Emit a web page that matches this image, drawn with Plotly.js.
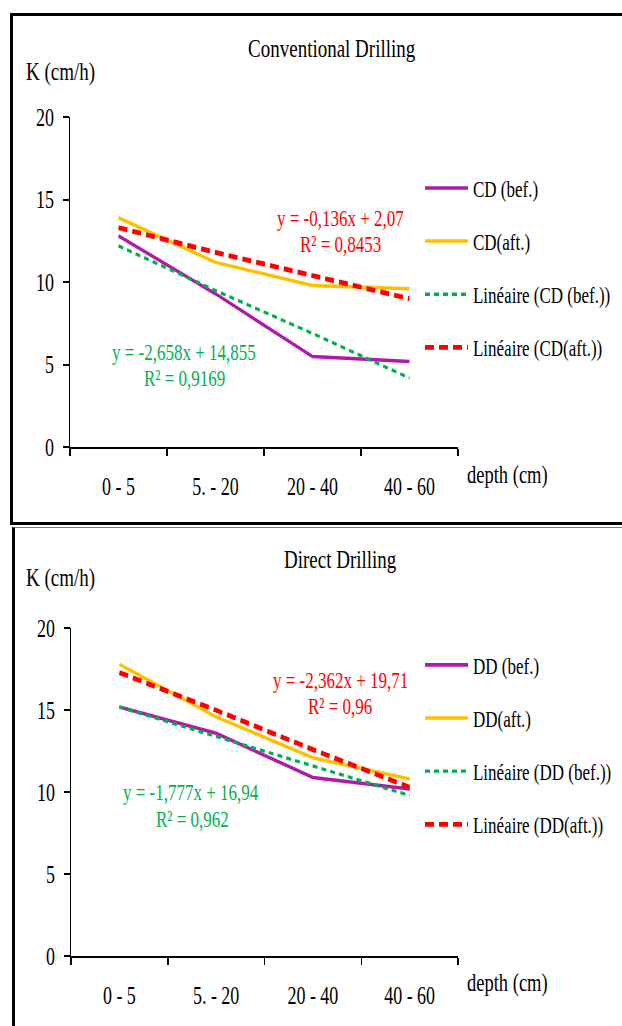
<!DOCTYPE html>
<html>
<head>
<meta charset="utf-8">
<script src="https://cdn.plot.ly/plotly-3.0.1.min.js"></script>
<style>
html,body{margin:0;padding:0;background:#ffffff;width:622px;height:1026px;overflow:hidden;}
#wrap{position:absolute;left:0;top:0;width:622px;transform-origin:0 0;}
.pl{position:absolute;left:0;width:622px;}
#box1{position:absolute;left:10px;top:13px;width:700px;height:512px;box-sizing:border-box;border:3px solid #000;border-right:none;z-index:5;pointer-events:none;}
#box2{position:absolute;left:12px;top:527px;width:700px;height:600px;box-sizing:border-box;border-left:3px solid #000;border-top:1px solid #777;z-index:5;pointer-events:none;}
</style>
</head>
<body>
<div id="wrap"><div id="p1" class="pl"></div><div id="p2" class="pl"></div></div>
<div id="box1"></div>
<div id="box2"></div>
<script>
// ---------- data ----------
const categories = ["0 - 5", "5. - 20", "20 - 40", "40 - 60"];

const cdBef      = [12.8, 9.3, 5.5, 5.2];
const cdAft      = [13.9, 11.2, 9.8, 9.6];
const cdBefTrend = [12.2, 9.5, 6.9, 4.2];
const cdAftTrend = [13.3, 11.8, 10.4, 9.0];

const ddBef      = [15.2, 13.6, 10.9, 10.2];
const ddAft      = [17.8, 14.6, 12.1, 10.8];
const ddBefTrend = [15.2, 13.4, 11.6, 9.8];
const ddAftTrend = [17.3, 15.0, 12.6, 10.3];

const cdNames = ["CD (bef.)", "CD(aft.)", "Linéaire (CD (bef.))", "Linéaire (CD(aft.))"];
const ddNames = ["DD (bef.)", "DD(aft.)", "Linéaire (DD (bef.))", "Linéaire (DD(aft.))"];

const cdEq = ["y = -0,136x + 2,07", "R² = 0,8453", "y = -2,658x + 14,855", "R² = 0,9169"];
const ddEq = ["y = -2,362x + 19,71", "R² = 0,96", "y = -1,777x + 16,94", "R² = 0,962"];

// ---------- style ----------
const S = 1.36;              // vertical stretch of the original picture
const FONT = '"Liberation Serif", "Times New Roman", serif';
const PURPLE = "#B01AAA", GOLD = "#FFC000", GREEN = "#00B050", RED = "#FF0000";
const TOTAL = 1026 / S;
const H1 = 525 / S;

document.getElementById('wrap').style.height = TOTAL + 'px';
document.getElementById('wrap').style.transform = 'scale(1,' + S + ')';
const p1 = document.getElementById('p1');
const p2 = document.getElementById('p2');
p1.style.top = '0px'; p1.style.height = H1 + 'px';
p2.style.top = H1 + 'px'; p2.style.height = (TOTAL - H1) + 'px';

function traces(vals, names) {
  return [
    {x: categories, y: vals[0], name: names[0], legendgroup: 'g1', line: {color: PURPLE, width: 2.6}},
    {x: categories, y: vals[1], name: names[1], legendgroup: 'g2', line: {color: GOLD, width: 2.6}},
    {x: categories, y: vals[2], name: names[2], legendgroup: 'g3', line: {color: GREEN, width: 2.4, dash: '5px,4px'}},
    {x: categories, y: vals[3], name: names[3], legendgroup: 'g4', line: {color: RED, width: 3.6, dash: '9px,5px'}}
  ].map(t => Object.assign({type: 'scatter', mode: 'lines', hoverinfo: 'skip'}, t));
}

function build(div, cfg) {
  const off = cfg.offsetPre, h = cfg.heightPre;
  const t = cfg.plotTopF / S - off;
  const bot = cfg.plotBotF / S - off;
  const left = cfg.left, right = cfg.right;
  const px = X => (X - left) / (right - left);
  const py = Y => (bot - (Y / S - off)) / (bot - t);
  const ann = (text, X, Y, xa, size, color) => ({
    text: text, xref: 'paper', yref: 'paper', x: px(X), y: py(Y),
    xanchor: xa, yanchor: 'middle', showarrow: false,
    font: {family: FONT, size: size, color: color}
  });
  const annotations = [
    ann(cfg.title, cfg.titleX, cfg.titleY, 'center', 19, '#000'),
    ann('K (cm/h)', 24, cfg.kY, 'left', 19, '#000'),
    ann('depth (cm)', 465, cfg.depthY, 'left', 18.5, '#000'),
    ann(cfg.eq[0], cfg.eqPos[0][0], cfg.eqPos[0][1], 'center', 17, RED),
    ann(cfg.eq[1], cfg.eqPos[1][0], cfg.eqPos[1][1], 'center', 17, RED),
    ann(cfg.eq[2], cfg.eqPos[2][0], cfg.eqPos[2][1], 'center', 17, GREEN),
    ann(cfg.eq[3], cfg.eqPos[3][0], cfg.eqPos[3][1], 'center', 17, GREEN)
  ];
  const layout = {
    width: 622, height: h,
    margin: {l: left, r: 622 - right, t: t, b: h - bot, pad: 0, autoexpand: false},
    paper_bgcolor: 'rgba(0,0,0,0)', plot_bgcolor: 'rgba(0,0,0,0)',
    showlegend: true,
    legend: {
      x: px(cfg.legX), y: py(cfg.legY), xanchor: 'left', yanchor: 'top',
      font: {family: FONT, size: 17, color: '#000'}, itemwidth: 43,
      tracegroupgap: 14, bgcolor: 'rgba(0,0,0,0)', borderwidth: 0
    },
    xaxis: {
      type: 'category', range: [-0.5, 3.5], tickson: 'boundaries',
      ticks: 'outside', ticklen: 5, tickwidth: 1.5, tickcolor: '#000',
      showline: true, linecolor: '#000', linewidth: 1.5,
      showgrid: false, zeroline: false, fixedrange: true, automargin: false,
      ticklabelstandoff: 12,
      tickfont: {family: FONT, size: 18, color: '#000'}
    },
    yaxis: {
      range: [0, 20], tick0: 0, dtick: 5,
      ticks: 'outside', ticklen: 6, tickwidth: 1.5, tickcolor: '#000',
      showline: true, linecolor: '#000', linewidth: 1.5,
      showgrid: false, zeroline: false, fixedrange: true, automargin: false,
      ticklabelstandoff: 5,
      tickfont: {family: FONT, size: 18, color: '#000'}
    },
    annotations: annotations
  };
  return Plotly.newPlot(div, cfg.data, layout, {staticPlot: true, displayModeBar: false});
}

build(p1, {
  offsetPre: 0, heightPre: H1,
  plotTopF: 117, plotBotF: 447, left: 70, right: 458,
  data: traces([cdBef, cdAft, cdBefTrend, cdAftTrend], cdNames),
  title: 'Conventional Drilling', titleX: 332, titleY: 48,
  kY: 72, depthY: 475,
  eq: cdEq, eqPos: [[340, 218], [340, 244], [184, 352], [184, 379]],
  legX: 420, legY: 164
});

build(p2, {
  offsetPre: H1, heightPre: TOTAL - H1,
  plotTopF: 628.3, plotBotF: 956, left: 71, right: 458,
  data: traces([ddBef, ddAft, ddBefTrend, ddAftTrend], ddNames),
  title: 'Direct Drilling', titleX: 340, titleY: 560,
  kY: 578, depthY: 984,
  eq: ddEq, eqPos: [[340, 681], [340, 707], [191, 792], [192, 819]],
  legX: 420, legY: 641
});
</script>
</body>
</html>
